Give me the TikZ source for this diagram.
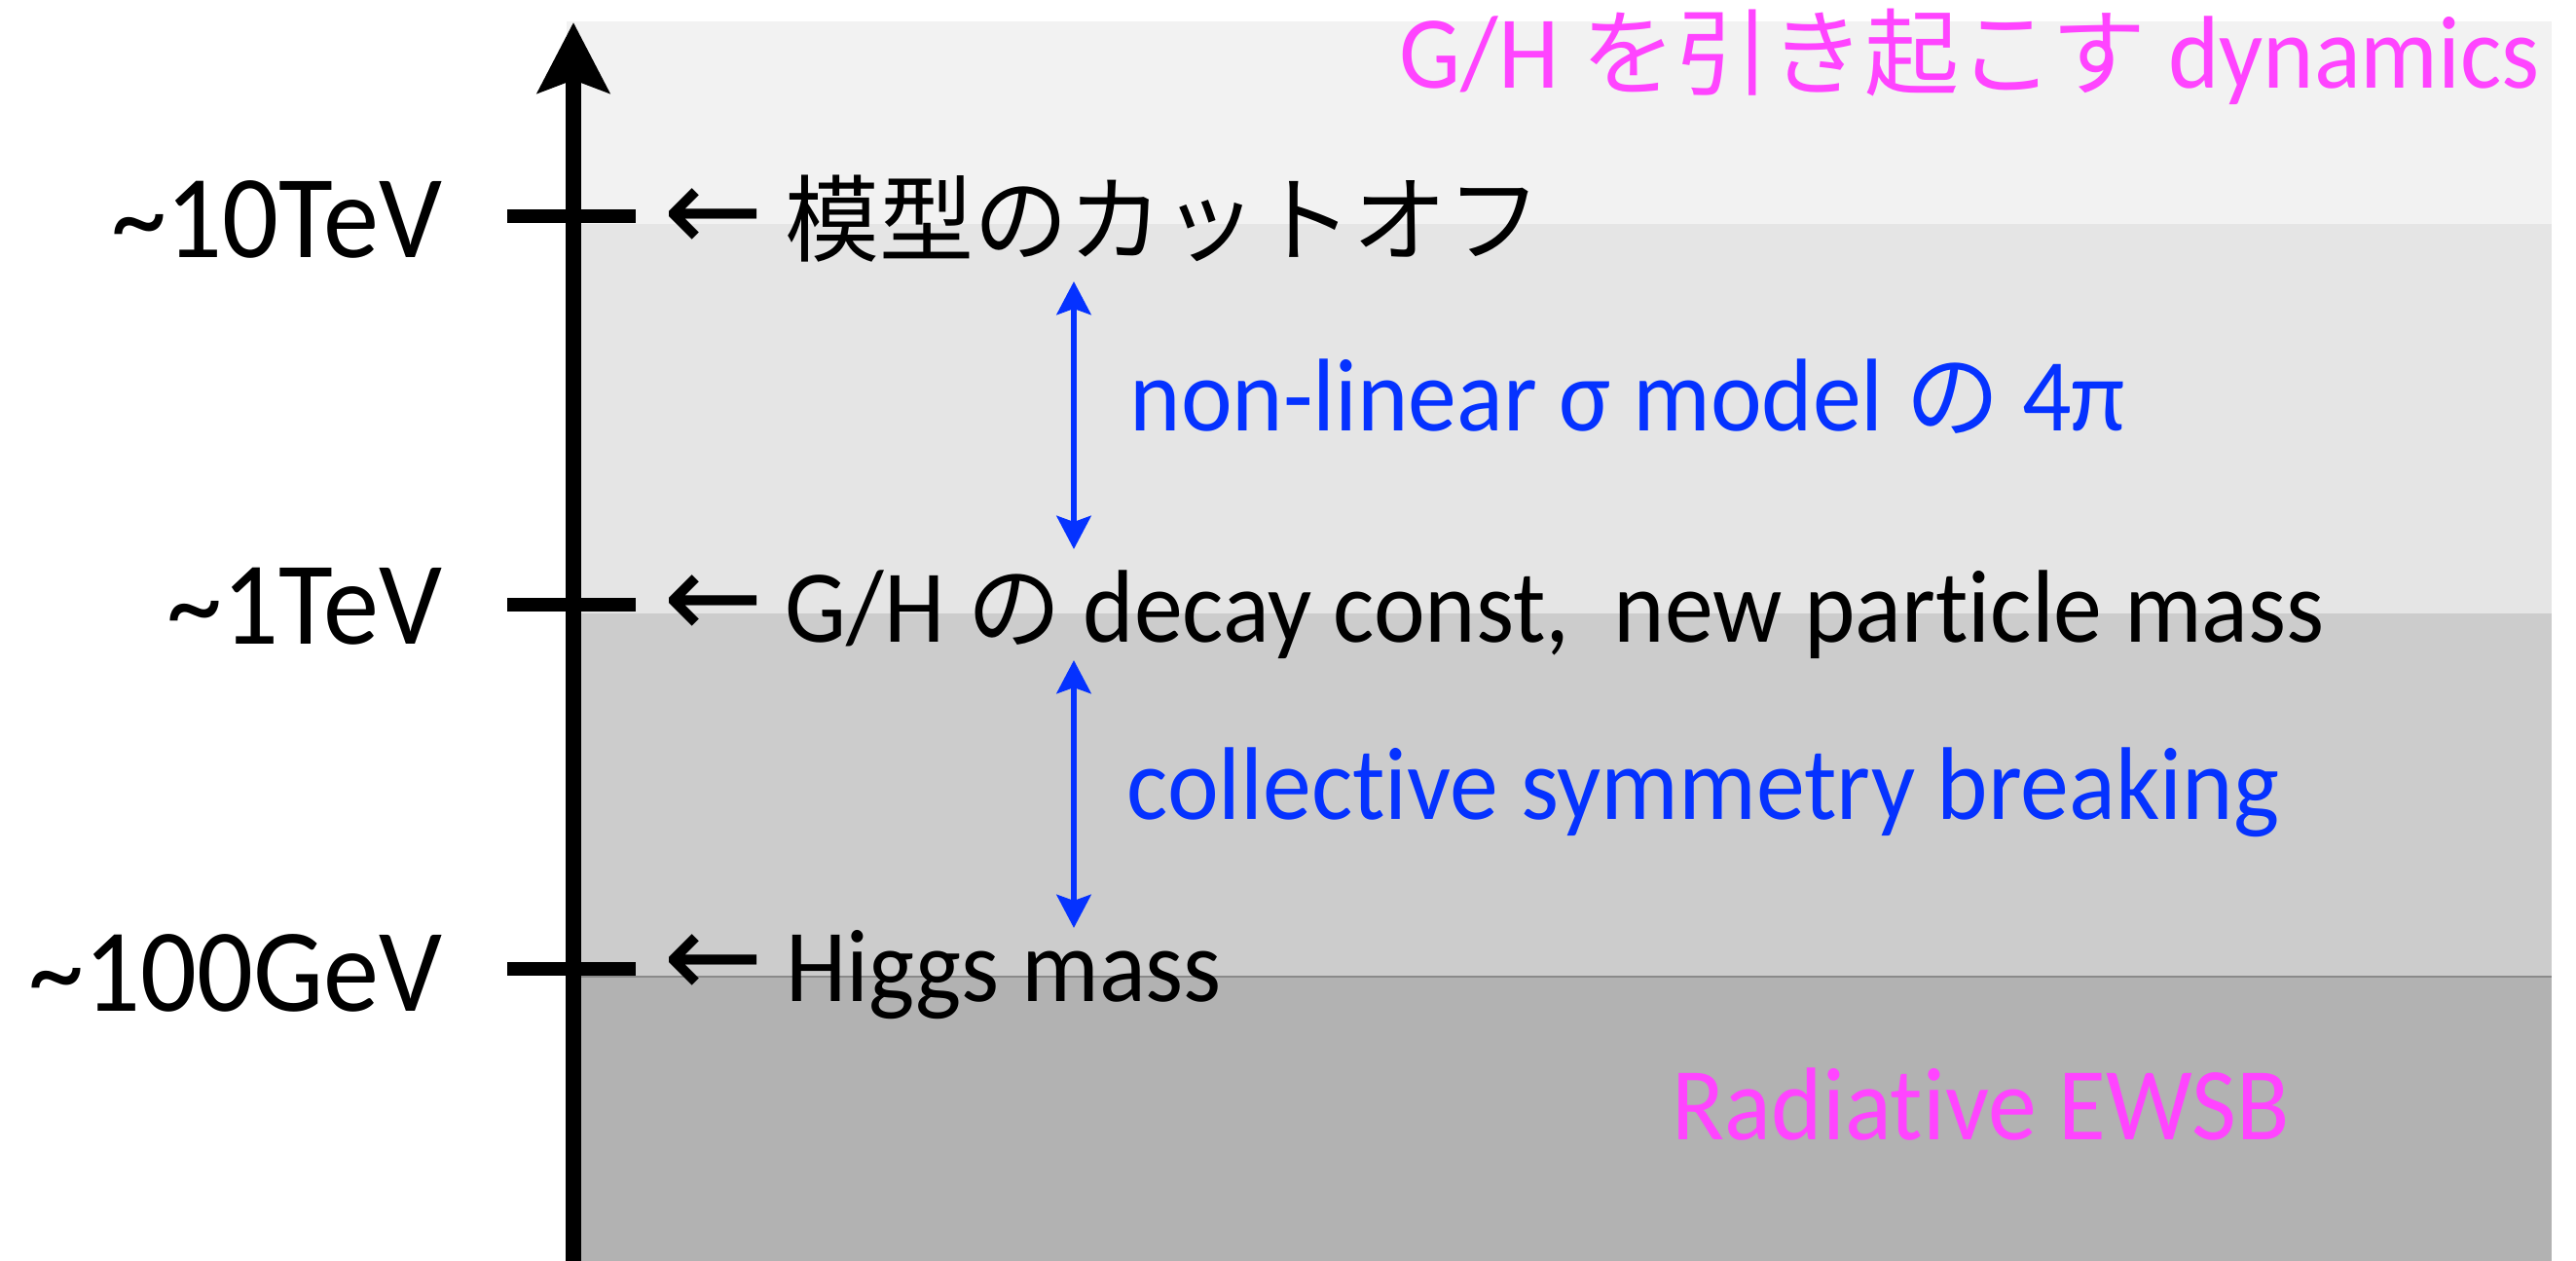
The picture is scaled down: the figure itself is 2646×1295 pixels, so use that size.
\documentclass[tikz,border=0pt]{standalone}
\usepackage{fontspec}
\setmainfont{Carlito}[FakeStretch=0.94, Ligatures=NoCommon]
\newfontfamily\jp{Noto Sans CJK JP}[Scale=0.914]
\newfontfamily\arrfont{DejaVu Sans}
\usetikzlibrary{arrows.meta}
\definecolor{pinkc}{RGB}{255,68,255}
\definecolor{bluec}{RGB}{5,50,255}
\definecolor{bandA}{RGB}{242,242,242}
\definecolor{bandB}{RGB}{229,229,229}
\definecolor{bandC}{RGB}{204,204,204}
\definecolor{bandD}{RGB}{178,178,178}
\definecolor{edgeC}{RGB}{138,138,138}
\tikzset{
  lbl/.style={inner sep=0pt, anchor=base west, font=\fontsize{30.2pt}{36pt}\selectfont},
  ticklbl/.style={inner sep=0pt, anchor=base east, font=\fontsize{34.6pt}{40pt}\selectfont},
  arrlbl/.style={inner sep=0pt, anchor=center, font=\fontsize{35pt}{40pt}\arrfont},
  tickmark/.style={line width=0.14cm, black},
  axisline/.style={line width=0.16cm, black, -{Stealth[length=0.72cm, width=0.73cm, inset=0.13cm]}},
  barrow/.style={line width=0.065cm, bluec, {Stealth[length=0.34cm, width=0.35cm, inset=0.06cm]}-{Stealth[length=0.34cm, width=0.35cm, inset=0.06cm]}},
}
\begin{document}
\begin{tikzpicture}[x=0.01cm,y=-0.01cm]
\useasboundingbox (0,0) rectangle (2646,1295);
% bands
\fill[bandA] (582,22) rectangle (2621,230);
\fill[bandB] (582,230) rectangle (2621,630);
\fill[bandC] (582,630) rectangle (2621,1003);
\fill[bandD] (582,1003) rectangle (2621,1295);
\draw[edgeC, line width=0.02cm] (582,1003) -- (2621,1003);
% axis
\coordinate (axb) at (589,1295);
\coordinate (axt) at (589,23);
\draw[axisline] (axb) -- (axt);
% ticks
\coordinate (k1a) at (521,222); \coordinate (k1b) at (653,222);
\coordinate (k2a) at (521,621); \coordinate (k2b) at (653,621);
\coordinate (k3a) at (521,995); \coordinate (k3b) at (653,995);
\draw[tickmark] (k1a) -- (k1b);
\draw[tickmark] (k2a) -- (k2b);
\draw[tickmark] (k3a) -- (k3b);
% tick labels
\node[ticklbl] (t10) at (455,265) {\textasciitilde 10TeV};
\node[ticklbl] (t1) at (455,662) {\textasciitilde 1TeV};
\node[ticklbl] (t100) at (455,1038) {\textasciitilde 100GeV};
% small arrows
\node[arrlbl] (a1) at (733,226) {←};
\node[arrlbl] (a2) at (733,623) {←};
\node[arrlbl] (a3) at (733,992) {←};
% texts
\node[lbl] (cut) at (806,262) {{\jp 模型のカットオフ}};
\node[lbl] (gh) at (806,660) {G/H {\jp の} decay const,\ \ new particle mass};
\node[lbl] (hm) at (807,1028) {Higgs mass};
\node[lbl, text=bluec] (nl) at (1160,443) {non-linear σ model {\jp の} 4π};
\node[lbl, text=bluec] (cs) at (1157,842) {collective symmetry breaking};
\node[lbl, text=pinkc] (dyn) at (1437,91) {G/H {\jp を引き起こす} dynamics};
\node[lbl, text=pinkc] (ew) at (1717,1170) {Radiative EWSB};
% blue arrows
\coordinate (b1t) at (1103,289); \coordinate (b1b) at (1103,564);
\coordinate (b2t) at (1103,678); \coordinate (b2b) at (1103,953);
\draw[barrow] (b1b) -- (b1t);
\draw[barrow] (b2b) -- (b2t);
\end{tikzpicture}
\end{document}
